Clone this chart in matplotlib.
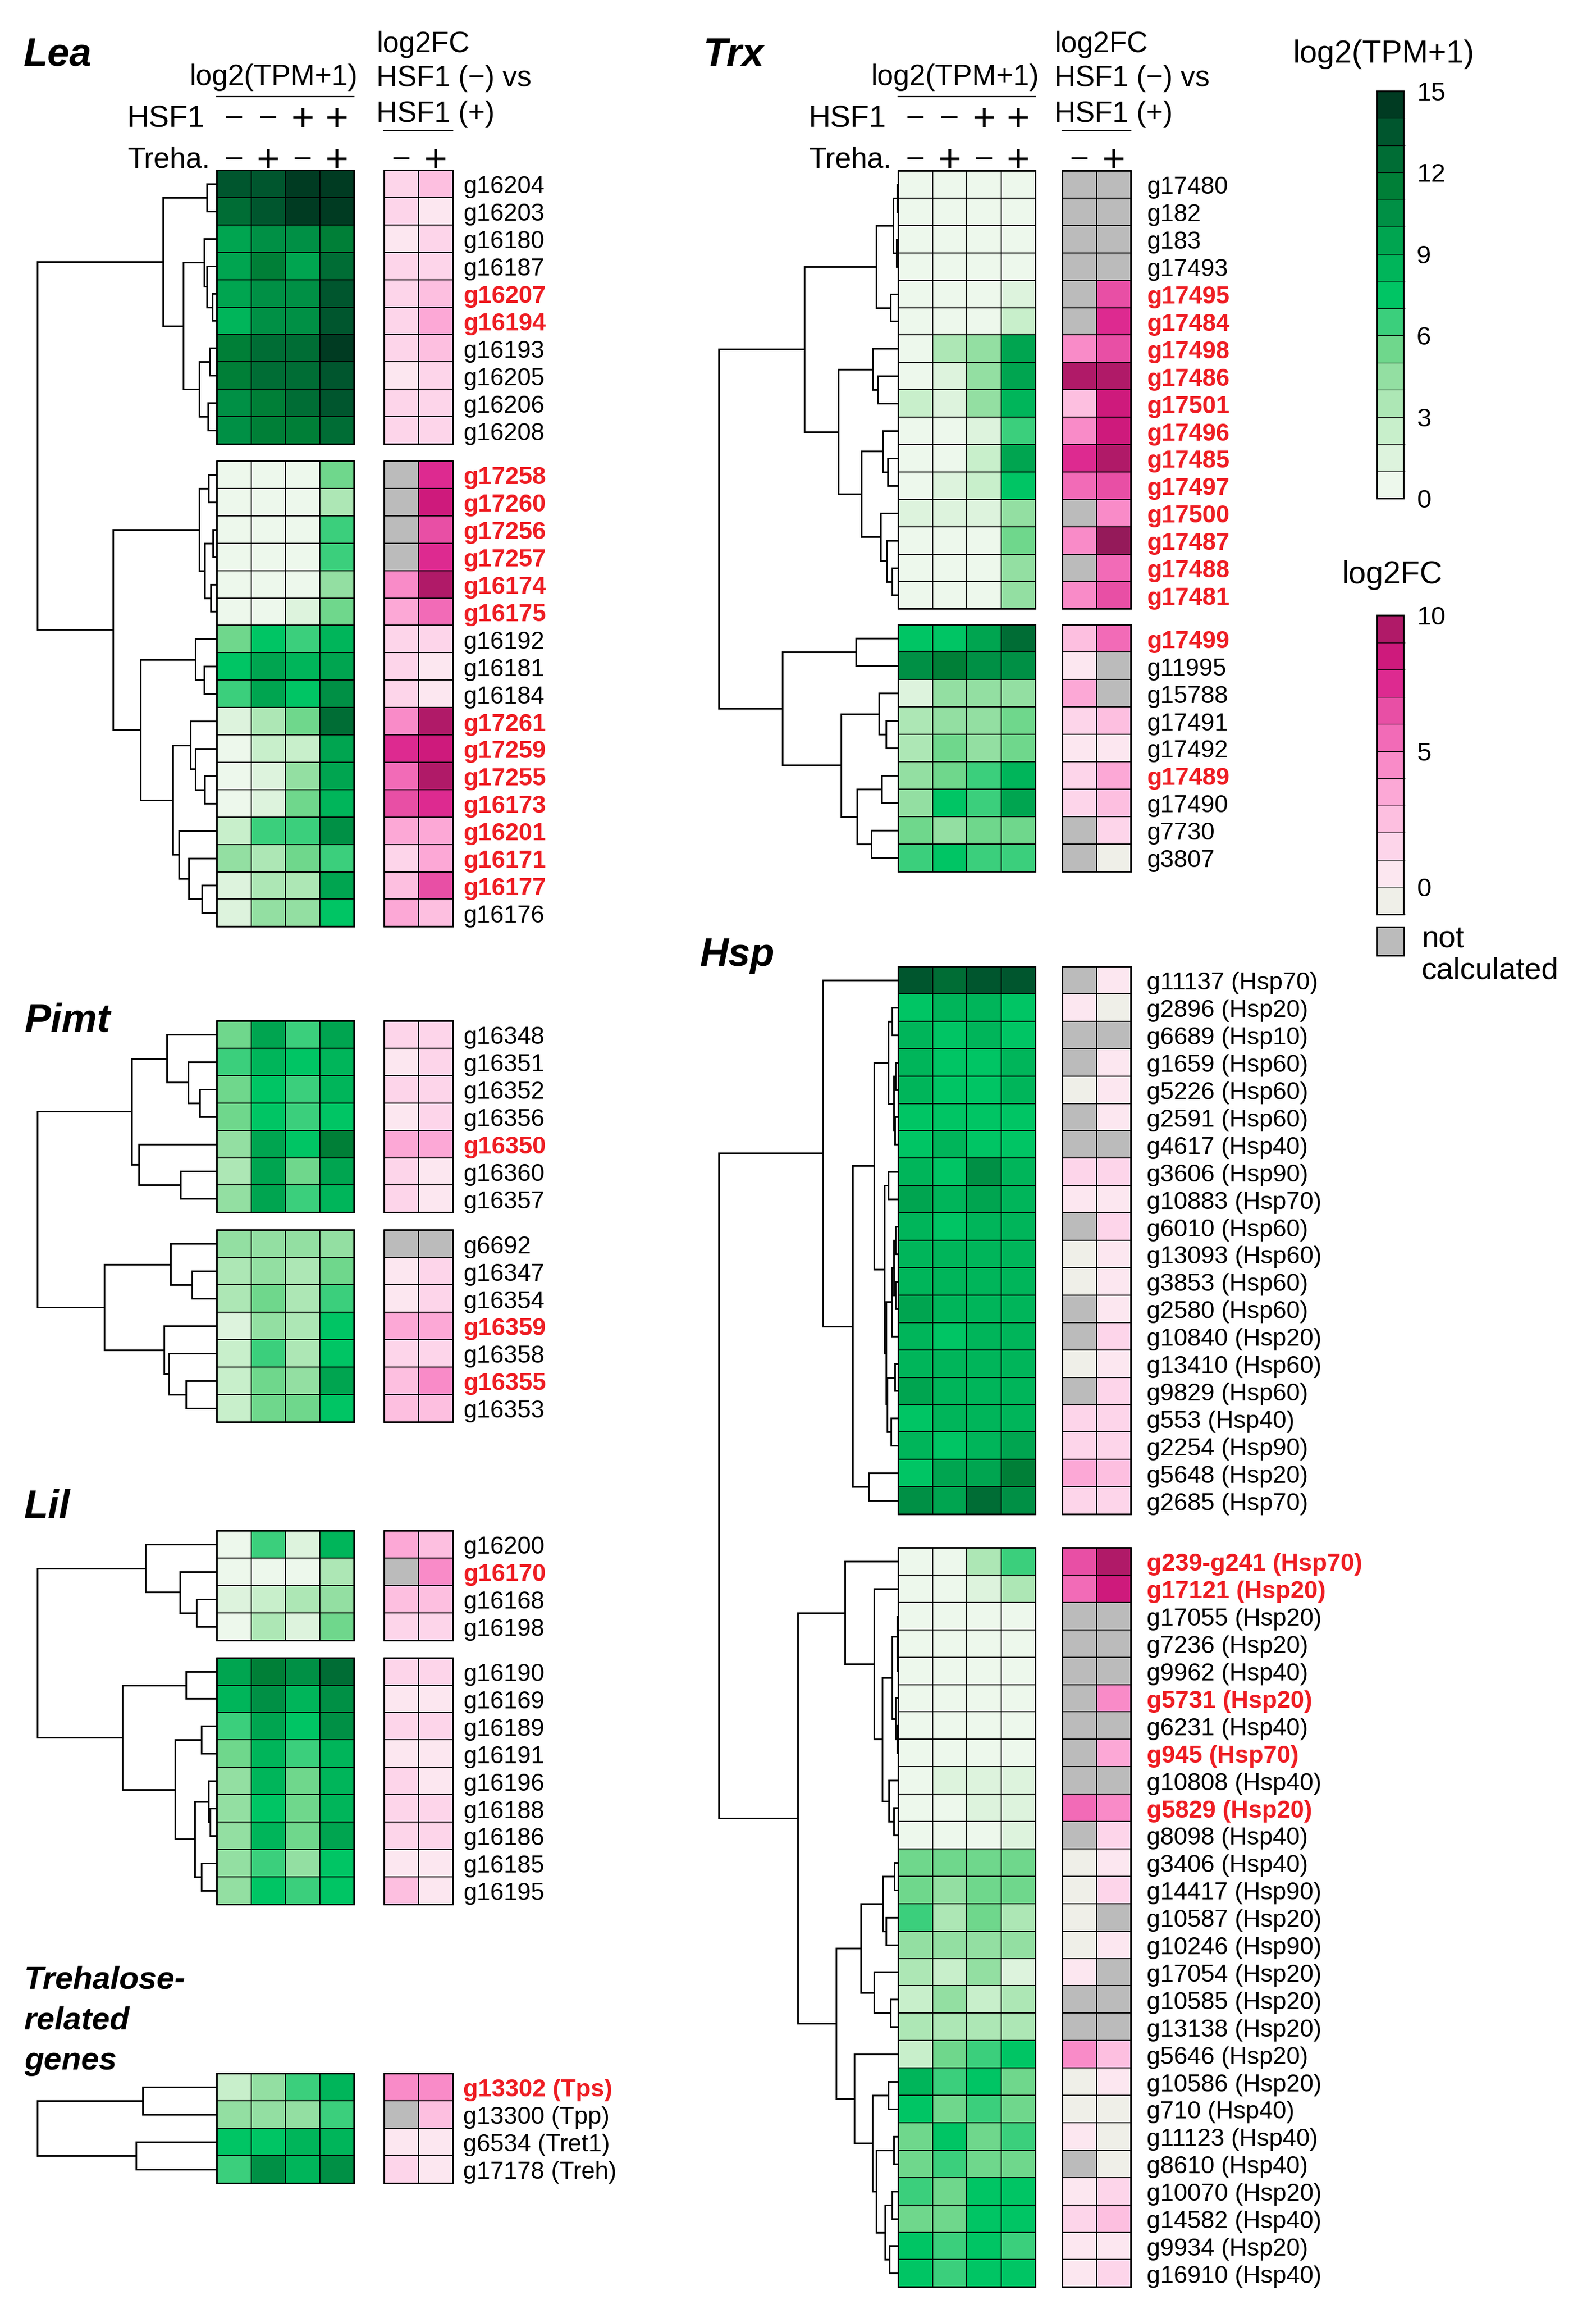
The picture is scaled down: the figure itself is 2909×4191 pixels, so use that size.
import numpy as np
import matplotlib
matplotlib.use("Agg")
import matplotlib.pyplot as plt
from matplotlib.colors import ListedColormap, BoundaryNorm
from matplotlib.cm import ScalarMappable
from matplotlib.patches import Rectangle

plt.rcParams['font.family'] = ['Liberation Sans', 'DejaVu Sans']

NA = np.nan

# ---- colour scales ----
tpm_colors = ['#EDF8EC', '#DDF3DD', '#C8EFCB', '#ADE7B5', '#93DFA2', '#6FD78C', '#3BCF7C',
              '#00C564', '#00B55A', '#00A550', '#009045', '#007F37', '#006D35', '#00562E', '#003B22']
tpm_bounds = np.arange(0, 16)
tpm_ticks = [0, 3, 6, 9, 12, 15]
fc_colors = ['#EFEFE8', '#FCE7F0', '#FDD5EA', '#FDBFE0', '#FCA8D6', '#F98BC8', '#F26BB7',
             '#E84FA5', '#DD2A90', '#CE1A7C', '#B01A68']
fc_bounds = np.arange(-1, 11)
fc_ticks = [0, 5, 10]

hsf1_signs = ['–', '–', '+', '+']
treha_signs = ['–', '+', '–', '+']
fc_signs = ['–', '+']

# ---- Lea ----
lea_genes = ['g16204', 'g16203', 'g16180', 'g16187', 'g16207', 'g16194', 'g16193', 'g16205', 'g16206', 'g16208',
             'g17258', 'g17260', 'g17256', 'g17257', 'g16174', 'g16175', 'g16192', 'g16181', 'g16184',
             'g17261', 'g17259', 'g17255', 'g16173', 'g16201', 'g16171', 'g16177', 'g16176']
lea_red = ['g16207', 'g16194', 'g17258', 'g17260', 'g17256', 'g17257', 'g16174', 'g16175', 'g17261',
           'g17259', 'g17255', 'g16173', 'g16201', 'g16171', 'g16177']
lea_tpm = [[13, 13, 14, 14], [12, 13, 14, 14], [9, 10, 10, 11], [9, 11, 9, 12], [9, 10, 10, 13],
           [8, 10, 10, 13], [11, 12, 12, 14], [11, 12, 12, 13], [10, 11, 12, 13], [10, 11, 11, 12],
           [0, 0, 0, 5], [0, 0, 0, 3], [0, 0, 0, 6], [0, 0, 0, 6], [0, 0, 0, 4], [0, 0, 1, 5],
           [5, 7, 6, 8], [7, 9, 8, 9], [6, 9, 7, 10], [1, 3, 5, 12], [0, 2, 2, 9], [0, 1, 4, 9],
           [0, 1, 5, 8], [2, 6, 6, 10], [4, 3, 5, 6], [1, 3, 3, 9], [1, 4, 4, 7]]
lea_fc = [[1, 2], [1, 0], [0, 1], [1, 1], [1, 2], [1, 3], [1, 2], [0, 1], [1, 1], [1, 1],
          [NA, 7], [NA, 8], [NA, 6], [NA, 7], [4, 9], [3, 5], [1, 1], [1, 0], [1, 0], [4, 9],
          [7, 8], [5, 9], [6, 7], [3, 3], [1, 3], [2, 6], [3, 2]]
lea_blocks = [10, 17]
# dendrogram: (left, right, height); leaves are row indices
lea_tree = (((0, 1, 18), ((2, (3, (4, 5, 7.6), 17.8), 23), ((6, 7, 13.3), (8, 9, 16.5), 32.5), 61.3), 98),
            (((10, 11, 14.6), ((12, 13, 7), (14, 15, 11.4), 21.6), 32.5),
             ((16, (17, 18, 23), 39),
              ((19, (20, (21, 22, 21.6), 39), 48.5), (23, (24, (25, 26, 27.4), 51), 69), 80.5), 139.4), 189),
            327)

# ---- Pimt ----
pimt_genes = ['g16348', 'g16351', 'g16352', 'g16356', 'g16350', 'g16360', 'g16357',
              'g6692', 'g16347', 'g16354', 'g16359', 'g16358', 'g16355', 'g16353']
pimt_red = ['g16350', 'g16359', 'g16355']
pimt_tpm = [[5, 9, 6, 9], [6, 8, 7, 8], [5, 7, 6, 8], [5, 7, 6, 7], [4, 9, 7, 11], [3, 9, 5, 9], [4, 9, 6, 8],
            [4, 4, 4, 4], [3, 4, 3, 5], [3, 5, 3, 6], [1, 4, 3, 7], [2, 6, 3, 7], [2, 5, 4, 9], [2, 5, 5, 7]]
pimt_fc = [[1, 1], [0, 1], [1, 1], [0, 1], [3, 3], [1, 0], [1, 0],
           [NA, NA], [0, 1], [0, 1], [3, 3], [1, 1], [2, 4], [2, 2]]
pimt_blocks = [7, 7]
pimt_tree = ((((0, (1, (2, 3, 30.7), 51.8), 90.8), (4, (5, 6, 66), 142.6), 154.8)),
             ((7, (8, 9, 44.8), 84.4), (10, (11, (12, 13, 55.6), 87.6), 96), 205.3), 327.5)

# ---- Lil ----
lil_genes = ['g16200', 'g16170', 'g16168', 'g16198', 'g16190', 'g16169', 'g16189', 'g16191', 'g16196',
             'g16188', 'g16186', 'g16185', 'g16195']
lil_red = ['g16170']
lil_tpm = [[0, 6, 1, 8], [0, 0, 0, 3], [1, 2, 3, 4], [0, 3, 1, 5], [9, 11, 10, 12], [8, 10, 8, 10],
           [6, 9, 7, 10], [5, 8, 6, 8], [4, 8, 5, 8], [4, 7, 5, 8], [4, 8, 5, 9], [4, 6, 4, 7], [4, 7, 6, 7]]
lil_fc = [[3, 2], [NA, 4], [2, 2], [1, 1], [1, 1], [0, 0], [1, 1], [0, 0], [1, 0], [1, 1], [1, 1], [0, 0], [2, 0]]
lil_blocks = [4, 9]
lil_tree = ((0, (1, (2, 3, 37.3), 66.7), 130.7),
            ((4, 5, 56.5), ((6, 7, 27.7), ((8, (9, 10, 12), 15), (11, 12, 28.3), 40.5), 75.7), 172.3), 327.7)

# ---- Trehalose-related genes ----
treh_genes = ['g13302 (Tps)', 'g13300 (Tpp)', 'g6534 (Tret1)', 'g17178 (Treh)']
treh_red = ['g13302 (Tps)']
treh_tpm = [[2, 4, 6, 8], [4, 4, 4, 6], [7, 7, 8, 8], [6, 10, 8, 10]]
treh_fc = [[4, 4], [NA, 2], [0, 0], [1, 0]]
treh_blocks = [4]
treh_tree = ((0, 1, 136), (2, 3, 148), 329.5)

# ---- Trx ----
trx_genes = ['g17480', 'g182', 'g183', 'g17493', 'g17495', 'g17484', 'g17498', 'g17486', 'g17501', 'g17496',
             'g17485', 'g17497', 'g17500', 'g17487', 'g17488', 'g17481',
             'g17499', 'g11995', 'g15788', 'g17491', 'g17492', 'g17489', 'g17490', 'g7730', 'g3807']
trx_red = ['g17495', 'g17484', 'g17498', 'g17486', 'g17501', 'g17496', 'g17485', 'g17497', 'g17500',
           'g17487', 'g17488', 'g17481', 'g17499', 'g17489']
trx_tpm = [[0, 0, 0, 0], [0, 0, 0, 0], [0, 0, 0, 0], [0, 0, 0, 0], [0, 0, 0, 1], [0, 0, 0, 2],
           [0, 3, 4, 9], [0, 1, 4, 9], [2, 1, 4, 8], [0, 0, 1, 6], [0, 0, 2, 9], [0, 1, 2, 7],
           [1, 1, 1, 4], [0, 0, 0, 5], [0, 0, 0, 4], [0, 0, 0, 4],
           [7, 7, 9, 12], [10, 11, 10, 10], [1, 4, 4, 4], [3, 4, 4, 5], [3, 5, 4, 5], [4, 5, 6, 8],
           [4, 7, 6, 9], [5, 4, 5, 5], [6, 7, 6, 6]]
trx_fc = [[NA, NA], [NA, NA], [NA, NA], [NA, NA], [NA, 6], [NA, 7], [4, 6], [9, 9], [2, 8], [4, 8],
          [7, 9], [5, 6], [NA, 4], [4, 10], [NA, 5], [4, 6],
          [2, 5], [0, NA], [3, NA], [1, 2], [0, 0], [1, 3], [1, 2], [NA, 1], [NA, -1]]
trx_blocks = [16, 9]
trx_tree = (((((0, 1, 2), (2, 3, 3), 8.5), (4, 5, 13.8), 39.5),
             ((6, (7, 8, 36.9), 45.5),
              ((9, (10, 11, 18.5), 28.3), (12, (13, (14, 15, 10.5), 21), 32.3), 66.6), 108.7), 170.7),
            ((16, 17, 76.4), ((18, (19, 20, 21.7), 34.9), ((21, 22, 29.7), (23, 24, 48.8), 75.1), 104), 210),
            326)

# ---- Hsp ----
hsp_genes = ['g11137 (Hsp70)', 'g2896 (Hsp20)', 'g6689 (Hsp10)', 'g1659 (Hsp60)', 'g5226 (Hsp60)',
             'g2591 (Hsp60)', 'g4617 (Hsp40)', 'g3606 (Hsp90)', 'g10883 (Hsp70)', 'g6010 (Hsp60)',
             'g13093 (Hsp60)', 'g3853 (Hsp60)', 'g2580 (Hsp60)', 'g10840 (Hsp20)', 'g13410 (Hsp60)',
             'g9829 (Hsp60)', 'g553 (Hsp40)', 'g2254 (Hsp90)', 'g5648 (Hsp20)', 'g2685 (Hsp70)',
             'g239-g241 (Hsp70)', 'g17121 (Hsp20)', 'g17055 (Hsp20)', 'g7236 (Hsp20)', 'g9962 (Hsp40)',
             'g5731 (Hsp20)', 'g6231 (Hsp40)', 'g945 (Hsp70)', 'g10808 (Hsp40)', 'g5829 (Hsp20)',
             'g8098 (Hsp40)', 'g3406 (Hsp40)', 'g14417 (Hsp90)', 'g10587 (Hsp20)', 'g10246 (Hsp90)',
             'g17054 (Hsp20)', 'g10585 (Hsp20)', 'g13138 (Hsp20)', 'g5646 (Hsp20)', 'g10586 (Hsp20)',
             'g710 (Hsp40)', 'g11123 (Hsp40)', 'g8610 (Hsp40)', 'g10070 (Hsp20)', 'g14582 (Hsp40)',
             'g9934 (Hsp20)', 'g16910 (Hsp40)']
hsp_red = ['g239-g241 (Hsp70)', 'g17121 (Hsp20)', 'g5731 (Hsp20)', 'g945 (Hsp70)', 'g5829 (Hsp20)']
hsp_tpm = [[13, 12, 13, 13], [7, 8, 8, 7], [8, 7, 8, 7], [8, 7, 7, 8], [8, 7, 7, 8], [7, 7, 7, 7],
           [7, 8, 7, 7], [8, 7, 10, 8], [9, 8, 9, 8], [8, 7, 8, 8], [8, 8, 8, 8], [8, 8, 8, 8],
           [9, 8, 8, 8], [8, 7, 8, 8], [8, 8, 8, 8], [9, 8, 8, 8], [7, 8, 8, 8], [8, 7, 8, 9],
           [7, 9, 9, 11], [10, 9, 12, 10],
           [0, 0, 3, 6], [0, 0, 1, 3], [0, 0, 0, 0], [0, 0, 0, 0], [0, 0, 0, 0], [0, 0, 0, 0],
           [0, 0, 0, 0], [0, 0, 0, 0], [0, 1, 1, 1], [0, 0, 1, 1], [0, 0, 0, 1], [5, 5, 5, 5],
           [5, 4, 5, 5], [6, 3, 5, 3], [4, 4, 4, 4], [3, 2, 4, 1], [2, 4, 2, 3], [3, 3, 3, 3],
           [2, 5, 6, 7], [8, 6, 7, 5], [7, 5, 6, 5], [5, 7, 5, 6], [5, 6, 5, 5], [6, 5, 7, 7],
           [5, 5, 7, 7], [7, 6, 7, 6], [7, 6, 7, 7]]
hsp_fc = [[NA, 0], [0, -1], [NA, NA], [NA, 0], [-1, 0], [NA, 0], [NA, NA], [1, 1], [0, 0], [NA, 1],
          [-1, 0], [-1, 0], [NA, 0], [NA, 1], [-1, 0], [NA, 1], [1, 1], [1, 1], [3, 2], [1, 1],
          [6, 9], [5, 8], [NA, NA], [NA, NA], [NA, NA], [NA, 4], [NA, NA], [NA, 3], [NA, NA], [5, 4],
          [NA, 1], [-1, 0], [-1, 1], [-1, NA], [-1, 0], [0, NA], [NA, NA], [NA, NA], [4, 2], [-1, 0],
          [-1, -1], [0, -1], [NA, -1], [0, 1], [1, 2], [0, 0], [0, 1]]
hsp_blocks = [20, 27]
hsp_tree = ((0, ((((1, 2, 11), ((3, 4, 5), (5, 6, 6), 8), 18),
                  ((7, 8, 18), ((((9, 10, 5), (11, 12, 5), 8), 13, 12),
                                ((14, 15, 6), (16, 17, 13), 20), 22), 24.6), 44.5),
                 (18, 19, 54.5), 83.7), 137.4),
            ((20, (21, (((22, (23, 24, 1.5), 2.3), (25, (26, 27, 2), 5), 10.7),
                        (28, (29, 30, 8.4), 16.9), 29.2), 44.5), 97.5),
             ((((31, 32, 6.9), (33, 34, 22.3), 27.6), (35, (36, 37, 13.8), 44.5), 68.3),
              (38, ((39, 40, 18.4), ((41, 42, 8.4), ((43, 44, 10.7), (45, 46, 16), 23.8), 40), 46.8), 80.6),
              113.6), 183.5),
            328)

# ---- layout (pixels of the 2909 x 4191 canvas) ----
W, H = 2909, 4191
ROW = 49.9
CELL = 62.5
DENDRO_W = 327
RED = '#EE1D23'

tpm_cmap = ListedColormap(tpm_colors)
tpm_norm = BoundaryNorm(tpm_bounds, tpm_cmap.N)
fc_cmap = ListedColormap(fc_colors)
fc_cmap.set_bad('#BBBBBB')
fc_cmap.set_over('#951A5A')
fc_norm = BoundaryNorm(fc_bounds, fc_cmap.N)

fig = plt.figure(figsize=(W / 100, H / 100), dpi=100)
ax = fig.add_axes([0, 0, 1, 1])
ax.set_xlim(0, W)
ax.set_ylim(H, 0)
ax.axis('off')


def draw_section(genes, red, tpm, fc, blocks, tree, top, gap, x_green, x_fc, x_lab):
    tpm = np.array(tpm, dtype=float)
    fc = np.array(fc, dtype=float)
    centers = []
    y = top
    start = 0
    for n in blocks:
        yedges = y + ROW * np.arange(n + 1)
        for x0, vals, cmap, norm, ncol in [(x_green, tpm, tpm_cmap, tpm_norm, 4), (x_fc, fc, fc_cmap, fc_norm, 2)]:
            xedges = x0 + CELL * np.arange(ncol + 1)
            ax.pcolormesh(xedges, yedges, np.ma.masked_invalid(vals[start:start + n]),
                          cmap=cmap, norm=norm, edgecolors='k', linewidth=1.4)
            ax.add_patch(Rectangle((x0, y), CELL * ncol, ROW * n, fill=False, lw=2.0, ec='k', zorder=3))
        for i in range(n):
            c = y + ROW * (i + 0.5)
            centers.append(c)
            g = genes[start + i]
            hl = g in red
            ax.text(x_lab, c + 17.5, g, fontsize=32, va='baseline', ha='left',
                    color=RED if hl else 'black', fontweight='bold' if hl else 'normal')
        y += ROW * n + gap
        start += n

    scale = DENDRO_W / tree[2]

    def walk(node):
        if isinstance(node, int):
            return centers[node], 0.0
        a, b, h = node
        ya, ha = walk(a)
        yb, hb = walk(b)
        x = x_green - h * scale
        ax.plot([x_green - ha * scale, x, x, x_green - hb * scale], [ya, ya, yb, yb],
                color='k', lw=2.1, solid_joinstyle='miter', solid_capstyle='butt')
        return (ya + yb) / 2, h

    walk(tree)


def sign(x, yc, s):
    # '+' drawn larger than the dash, both centred on the row's sign line
    if s == '+':
        ax.text(x, yc + 25, s, fontsize=52, ha='center', va='baseline')
    else:
        ax.text(x, yc + 14, s, fontsize=38, ha='center', va='baseline')


def draw_header(x_green, x_fc):
    ax.text(x_green + 104, 155, 'log2(TPM+1)', fontsize=38, ha='center', va='baseline')
    ax.plot([x_green, x_green + 4 * CELL], [176, 176], color='k', lw=1.6)
    ax.text(x_green - 22, 231, 'HSF1', fontsize=40, ha='right', va='baseline')
    ax.text(x_green - 12, 306, 'Treha.', fontsize=38, ha='right', va='baseline')
    for i, (s1, s2) in enumerate(zip(hsf1_signs, treha_signs)):
        sign(x_green + CELL * (i + 0.5), 213, s1)
        sign(x_green + CELL * (i + 0.5), 288, s2)
    ax.text(x_fc - 14, 95, 'log2FC', fontsize=38, ha='left', va='baseline')
    ax.text(x_fc - 14, 157, 'HSF1 (−) vs', fontsize=38, ha='left', va='baseline')
    ax.text(x_fc - 14, 222, 'HSF1 (+)', fontsize=38, ha='left', va='baseline')
    ax.plot([x_fc, x_fc + 2 * CELL], [238, 238], color='k', lw=1.6)
    for i, s in enumerate(fc_signs):
        sign(x_fc + CELL * (i + 0.5), 288, s)


def title(x, y, s, size=52):
    ax.text(x, y, s, fontsize=size, fontweight='bold', fontstyle='italic', va='baseline', ha='left')


# left column
LG, LF, LL = 395, 700, 844
# right column
RG, RF, RL = 1637, 1936, 2090

draw_header(LG, LF)
draw_header(RG, RF)

title(43, 120, 'Lea')
draw_section(lea_genes, lea_red, lea_tpm, lea_fc, lea_blocks, lea_tree, 310, 31, LG, LF, LL)
title(45, 1879, 'Pimt')
draw_section(pimt_genes, pimt_red, pimt_tpm, pimt_fc, pimt_blocks, pimt_tree, 1860, 32, LG, LF, LL)
title(44, 2766, 'Lil')
draw_section(lil_genes, lil_red, lil_tpm, lil_fc, lil_blocks, lil_tree, 2789, 32, LG, LF, LL)
for yb, s in zip([3624, 3697, 3771], ['Trehalose-', 'related', 'genes']):
    title(44, yb, s, size=42)
draw_section(treh_genes, treh_red, treh_tpm, treh_fc, treh_blocks, treh_tree, 3778, 0, LG, LF, LL)

title(1282, 120, 'Trx')
draw_section(trx_genes, trx_red, trx_tpm, trx_fc, trx_blocks, trx_tree, 311, 29, RG, RF, RL)
title(1276, 1760, 'Hsp')
draw_section(hsp_genes, hsp_red, hsp_tpm, hsp_fc, hsp_blocks, hsp_tree, 1761, 61, RG, RF, RL)

# ---- colour legends ----
cax1 = fig.add_axes([2509 / W, 1 - 908 / H, 49.5 / W, 742 / H])
cb1 = fig.colorbar(ScalarMappable(norm=tpm_norm, cmap=tpm_cmap), cax=cax1, drawedges=True, ticks=tpm_ticks)
cax2 = fig.add_axes([2509 / W, 1 - 1666 / H, 49.5 / W, 545 / H])
cb2 = fig.colorbar(ScalarMappable(norm=fc_norm, cmap=fc_cmap), cax=cax2, drawedges=True, ticks=fc_ticks)
for cb in (cb1, cb2):
    cb.outline.set_linewidth(2.2)
    cb.dividers.set_linewidth(0.9)
    cb.ax.tick_params(length=0, pad=17, labelsize=34)

ax.text(2522, 114, 'log2(TPM+1)', fontsize=41, ha='center', va='baseline')
ax.text(2537, 1063, 'log2FC', fontsize=41, ha='center', va='baseline')
ax.add_patch(Rectangle((2509, 1689), 49.5, 52, facecolor='#BBBBBB', edgecolor='k', lw=2))
ax.text(2591, 1725, 'not', fontsize=40, ha='left', va='baseline')
ax.text(2591, 1784, 'calculated', fontsize=40, ha='left', va='baseline')

fig.savefig('out.png', dpi=100)
